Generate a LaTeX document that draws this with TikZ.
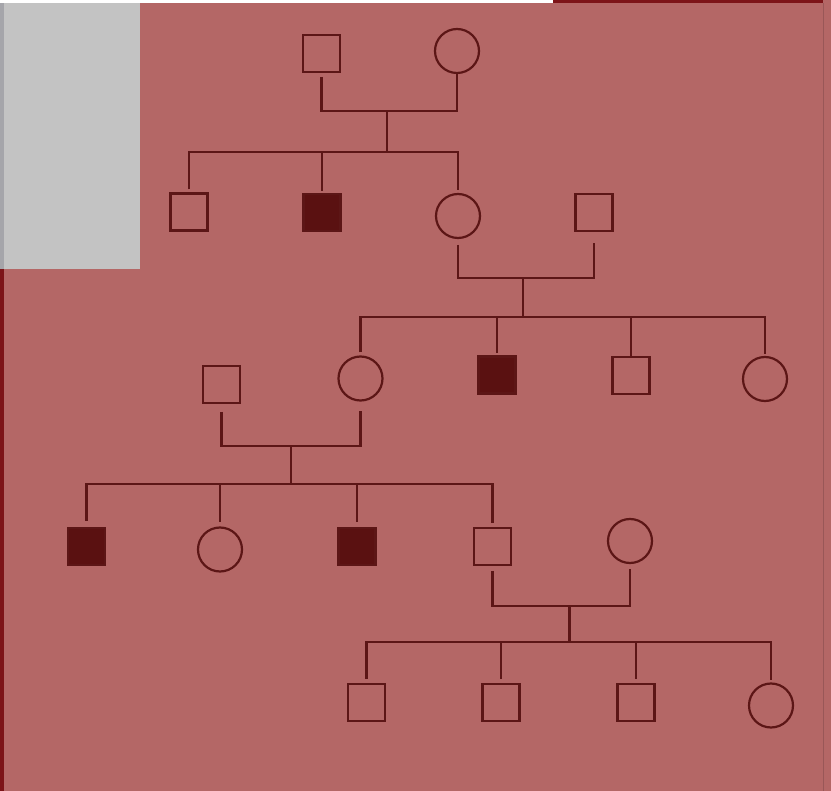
\documentclass[tikz,border=0pt]{standalone}
\definecolor{bgmauve}{RGB}{180,103,102}
\definecolor{panelgray}{RGB}{195,195,195}
\definecolor{edgegray}{RGB}{165,165,170}
\definecolor{borderred}{RGB}{125,20,24}
\definecolor{inkred}{RGB}{92,22,22}
\definecolor{fillred}{RGB}{90,17,17}
\tikzset{
  ind/.style={draw=inkred, line width=2.2pt, inner sep=0pt, outer sep=0pt},
  sq/.style={ind, rectangle, minimum size=37pt},
  sqf/.style={sq, fill=fillred},
  ci/.style={ind, circle, minimum size=44pt},
  ln/.style={draw=inkred, line width=2.2pt},
}
\begin{document}
\begin{tikzpicture}[x=1pt,y=-1pt]
\useasboundingbox (0,0) rectangle (831,791);
% background and frame pieces
\fill[bgmauve] (0,0) rectangle (831,791);
\fill[white] (0,0) rectangle (553,3);
\fill[borderred] (553,0) rectangle (823,3);
\fill[panelgray] (0,3) rectangle (140,269);
\fill[edgegray] (0,3) rectangle (4,269);
\fill[borderred] (0,269) rectangle (4,791);
\fill[bgmauve!85!black] (822.5,3) rectangle (823.5,791);

% Generation I
\node[sq] (m1) at (321.5,53.5) {};
\node[ci] (f1) at (457,51) {};
% Generation II
\node[sq]  (a1) at (189,212) {};
\node[sqf] (a2) at (322,212.5) {};
\node[ci]  (a3) at (458,216) {};
\node[sq]  (a4) at (594,212.5) {};
% Generation III
\node[sq]  (b0) at (221.5,384.5) {};
\node[ci]  (b1) at (360.5,378.5) {};
\node[sqf] (b2) at (497,375) {};
\node[sq]  (b3) at (631,375.5) {};
\node[ci]  (b4) at (765,379) {};
% Generation IV
\node[sqf] (c1) at (86.5,546.5) {};
\node[ci]  (c2) at (220,549.5) {};
\node[sqf] (c3) at (357,546.5) {};
\node[sq]  (c4) at (492.5,546.5) {};
\node[ci]  (c5) at (630,541) {};
% Generation V
\node[sq] (d1) at (366.5,702.5) {};
\node[sq] (d2) at (501,702.5) {};
\node[sq] (d3) at (636,702.5) {};
\node[ci] (d4) at (771,705.5) {};

% couple and sibship coordinates
\coordinate (u1) at (387,111);   \coordinate (s1) at (387,152);
\coordinate (u2) at (523,278);   \coordinate (s2) at (523,317);
\coordinate (u3) at (291,446);   \coordinate (s3) at (291,484);
\coordinate (u4) at (569.5,606); \coordinate (s4) at (569.5,642);

% Family 1
\draw[ln] ([yshift=-5pt]m1.south) |- (u1) -| (f1.south);
\draw[ln] (u1) -- (s1);
\draw[ln] ([yshift=4pt]a1.north) |- (s1) -| ([yshift=4pt]a3.north);
\draw[ln] (s1 -| a2) -- ([yshift=3pt]a2.north);

% Family 2
\draw[ln] ([yshift=-7pt]a3.south) |- (u2) -| ([yshift=-12pt]a4.south);
\draw[ln] (u2) -- (s2);
\draw[ln] ([yshift=4pt]b1.north) |- (s2) -| ([yshift=3pt]b4.north);
\draw[ln] (s2 -| b2) -- ([yshift=3pt]b2.north);
\draw[ln] (s2 -| b3) -- (b3.north);

% Family 3
\draw[ln] ([yshift=-9pt]b0.south) |- (u3) -| ([yshift=-11pt]b1.south);
\draw[ln] (u3) -- (s3);
\draw[ln] ([yshift=7pt]c1.north) |- (s3) -| ([yshift=5pt]c4.north);
\draw[ln] (s3 -| c2) -- ([yshift=5pt]c2.north);
\draw[ln] (s3 -| c3) -- ([yshift=6pt]c3.north);

% Family 4
\draw[ln] ([yshift=-6pt]c4.south) |- (u4) -| ([yshift=-6pt]c5.south);
\draw[ln] (u4) -- (s4);
\draw[ln] ([yshift=5pt]d1.north) |- (s4) -| ([yshift=3pt]d4.north);
\draw[ln] (s4 -| d2) -- ([yshift=5pt]d2.north);
\draw[ln] (s4 -| d3) -- ([yshift=5pt]d3.north);
\end{tikzpicture}
\end{document}
